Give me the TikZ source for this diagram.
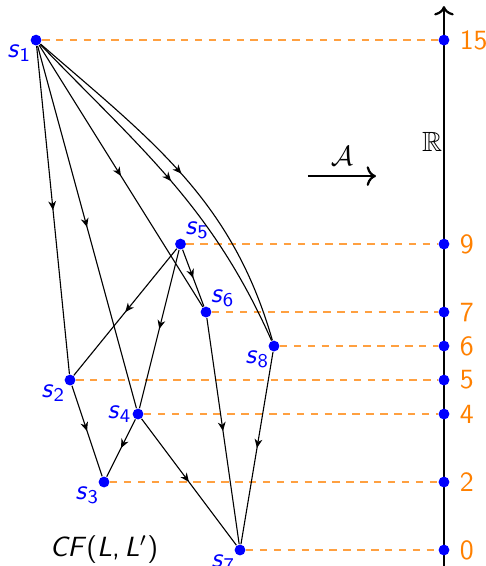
\documentclass[tikz,border=0pt]{standalone}
\usepackage{amssymb}
\usepackage{xcolor}
\usepackage{tikz}
\usetikzlibrary{arrows.meta}
\usetikzlibrary{decorations.markings}
\renewcommand{\familydefault}{\sfdefault}
\newcommand{\sstate}[1]{\textit{s}\textsubscript{#1}}

\begin{document}
\begin{tikzpicture}[
    x=0.43cm, y=0.43cm,
    >=To,
    vdot/.style={circle, fill=blue, inner sep=0pt, minimum size=3.9pt},
    slabel/.style={blue, inner sep=0pt},
    vlabel/.style={orange},
    flowedge/.style={postaction={decorate},
        decoration={markings, mark=at position 0.5 with {\arrow{Stealth[length=3.2pt, width=2.8pt, inset=1pt]}}}},
    levelline/.style={orange, opacity=0.75, line width=0.5pt, dash pattern=on 2.7pt off 2.3pt}
]
    \useasboundingbox (-0.06,-0.47) rectangle (14.21,16.18);

    % Asse reale
    \coordinate (axbot) at (13,-0.5);
    \coordinate (axtop) at (13,16);
    \draw[->, thick] (axbot) -- (axtop);
    \node (Rlab) at (12.65,12) {$\mathbb{R}$};
    \foreach \v in {0,2,4,5,6,7,9,15}
        \node[vdot, label={[vlabel]right:\v}] (r\v) at (13,\v) {};

    % Freccia A
    \coordinate (Afrom) at (9,11);
    \coordinate (Ato) at (11,11);
    \draw[->, thick] (Afrom) -- node[above] (Alab) {$\mathcal{A}$} (Ato);

    % Generatori del complesso
    \node[vdot, label={[slabel]below left:{\sstate{1}}}] (s1) at (1,15) {};
    \node[vdot, label={[slabel]above right:{\sstate{5}}}] (s5) at (5.25,9) {};
    \node[vdot, label={[slabel]above right:{\sstate{6}}}] (s6) at (6,7) {};
    \node[vdot, label={[slabel]below left:{\sstate{8}}}] (s8) at (8,6) {};
    \node[vdot, label={[slabel]below left:{\sstate{2}}}] (s2) at (2,5) {};
    \node[vdot, label={[slabel]left:{\sstate{4}}}] (s4) at (4,4) {};
    \node[vdot, label={[slabel]below left:{\sstate{3}}}] (s3) at (3,2) {};
    \node[vdot, label={[slabel]below left:{\sstate{7}}}] (s7) at (7,0) {};
    \node (cflab) at (3,0) {\textit{CF}(\textit{L},\,\textit{L}$'$)};

    % Livelli
    \foreach \s/\v in {1/15, 5/9, 6/7, 8/6, 2/5, 4/4, 3/2, 7/0}
        \draw[levelline] (s\s) -- (r\v);

    % Differenziale
    \draw[flowedge] (s1) -- (s2);
    \draw[flowedge] (s1) -- (s4);
    \draw[flowedge] (s1) -- (s6);
    \draw[flowedge] (s1) to[out=-46, in=114] (s8);
    \draw[flowedge] (s1) to[out=-41, in=106] (s8);
    \draw[flowedge] (s5) -- (s2);
    \draw[flowedge] (s5) -- (s4);
    \draw[flowedge] (s5) -- (s6);
    \draw[flowedge] (s6) -- (s7);
    \draw[flowedge] (s8) -- (s7);
    \draw[flowedge] (s2) -- (s3);
    \draw[flowedge] (s4) -- (s3);
    \draw[flowedge] (s4) -- (s7);

\end{tikzpicture}
\end{document}
